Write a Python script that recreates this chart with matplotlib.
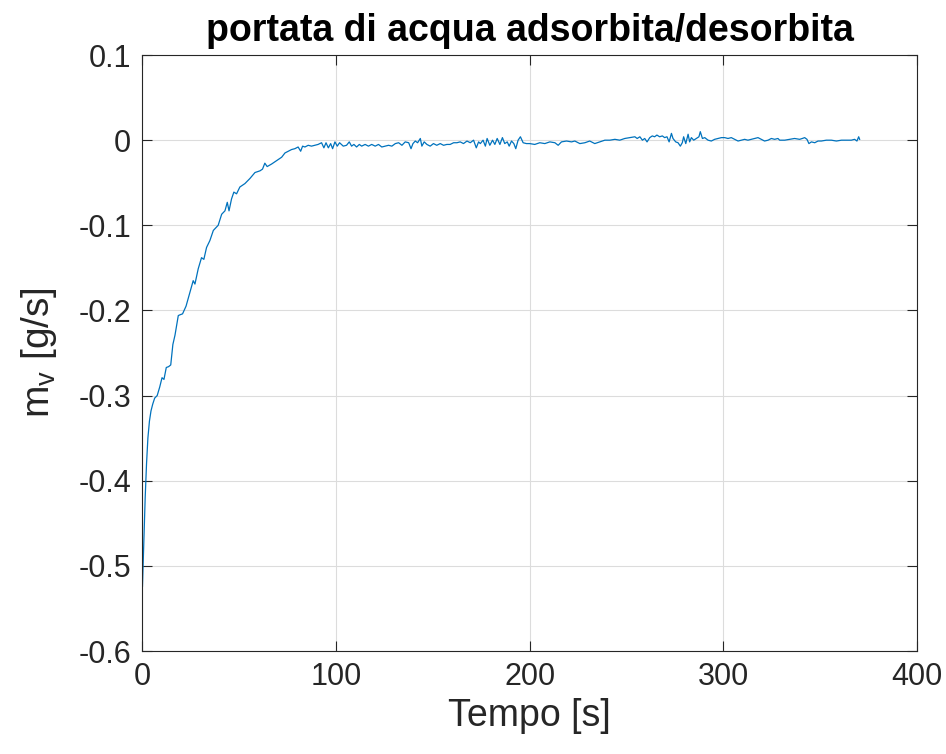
import numpy as np
import matplotlib
matplotlib.use("Agg")
import matplotlib.pyplot as plt

# portata di vapore scambiata dal letto [g/s] in funzione del tempo [s]
tempo = [0, 0.7, 1.4, 2.1, 2.8, 3.6, 4.4, 5.3, 6.3, 7.6, 8.9, 10.1, 11.1, 12.3, 13.5,
         14.6, 15.7, 16.8, 18.5, 19.5, 20.7, 22.5, 24.5, 26.2, 27.1, 28.8, 30.5, 31.7,
         33.1, 34.8, 36.6, 39.1, 40.9, 42.6, 43.8, 44.7, 46.0, 47.2, 48.6, 50.3, 52.9,
         55.5, 58.1, 60.7, 62.0, 63.2, 64.4, 66.7, 69.3, 71.9, 73.6, 75.3, 77.0, 78.7,
         80.4, 81.7, 82.7, 83.9, 85.6, 87.3, 89.0, 90.7, 92.5, 93.7, 94.8, 96.0, 97.2,
         98.2, 99.4, 100.6, 101.8, 103.7, 105.4, 106.8, 108.0, 109.2, 110.6, 112.0,
         113.2, 115.0, 116.7, 118.4, 120.2, 121.9, 123.6, 125.4, 127.1, 128.8, 130.6,
         132.3, 134.0, 135.7, 137.5, 138.7, 139.7, 140.9, 142.1, 143.5, 144.3, 145.5,
         146.9, 148.6, 150.3, 152.0, 153.8, 155.5, 157.2, 158.9, 160.7, 162.4, 164.1,
         165.8, 167.6, 169.3, 171.0, 172.4, 173.6, 174.5, 175.9, 177.1, 178.0, 179.4,
         180.8, 182.0, 183.2, 184.6, 185.9, 187.1, 188.4, 189.4, 190.6, 191.8, 192.8,
         194.0, 195.2, 196.6, 198.3, 200.0, 202.6, 205.2, 207.8, 210.4, 213.0, 214.7,
         216.4, 219.0, 221.6, 223.3, 225.9, 228.5, 231.0, 233.6, 236.2, 238.8, 241.4,
         244.0, 246.5, 249.1, 251.7, 254.3, 255.5, 256.9, 258.2, 259.4, 260.6, 262.0,
         263.3, 264.5, 265.7, 267.1, 268.5, 269.7, 270.9, 272.0, 273.2, 274.0, 275.4,
         276.6, 277.8, 278.8, 279.5, 280.6, 281.8, 282.6, 283.5, 284.7, 286.1, 287.4,
         288.1, 289.2, 290.4, 292.1, 293.8, 295.5, 297.2, 299.0, 300.7, 302.4, 304.1,
         305.9, 307.6, 309.3, 311.0, 312.7, 314.5, 316.2, 317.9, 319.6, 321.3, 323.1,
         324.8, 326.5, 328.2, 329.1, 331.7, 334.3, 336.8, 339.4, 340.8, 342.0, 343.2,
         344.2, 345.5, 347.2, 348.9, 350.6, 353.2, 355.8, 358.4, 361.0, 363.5, 366.1,
         367.8, 369.0, 369.9, 370.4]
portata = [-0.524, -0.470, -0.420, -0.380, -0.350, -0.330, -0.318, -0.310, -0.303, -0.300,
           -0.290, -0.279, -0.281, -0.267, -0.266, -0.264, -0.240, -0.229, -0.206, -0.205,
           -0.204, -0.195, -0.179, -0.165, -0.169, -0.151, -0.138, -0.140, -0.126, -0.118,
           -0.106, -0.100, -0.087, -0.083, -0.073, -0.083, -0.069, -0.061, -0.063, -0.055,
           -0.051, -0.045, -0.038, -0.036, -0.034, -0.027, -0.031, -0.028, -0.024, -0.020,
           -0.015, -0.013, -0.011, -0.010, -0.008, -0.013, -0.007, -0.008, -0.006, -0.007,
           -0.006, -0.005, -0.003, -0.009, -0.003, -0.009, -0.004, -0.010, -0.002, -0.007,
           -0.003, -0.007, -0.006, -0.002, -0.007, -0.005, -0.008, -0.005, -0.007, -0.005,
           -0.007, -0.005, -0.007, -0.005, -0.008, -0.007, -0.006, -0.007, -0.004, -0.003,
           -0.006, -0.002, -0.003, -0.010, -0.004, -0.001, -0.003, 0.002, -0.007, -0.002,
           -0.005, -0.007, -0.004, -0.006, -0.004, -0.006, -0.005, -0.005, -0.003, -0.003,
           -0.002, -0.004, -0.001, -0.003, 0.000, -0.009, -0.002, -0.004, 0.000, -0.007,
           0.002, -0.006, 0.000, -0.005, 0.002, -0.005, 0.003, -0.004, -0.002, -0.007,
           -0.001, -0.004, -0.010, 0.000, 0.004, -0.003, -0.004, -0.004, -0.005, -0.003,
           -0.004, -0.002, -0.003, -0.006, -0.002, -0.001, -0.002, -0.001, -0.004, -0.003,
           -0.001, -0.004, -0.002, 0.000, 0.000, 0.001, 0.000, 0.002, 0.003, 0.004,
           0.002, 0.004, 0.000, 0.002, -0.002, 0.003, 0.005, 0.004, 0.006, 0.004,
           0.005, 0.003, 0.004, -0.002, 0.008, 0.002, -0.002, -0.003, -0.007, -0.003,
           0.004, -0.004, 0.007, -0.002, 0.003, 0.000, 0.002, 0.004, 0.010, 0.002,
           0.003, 0.000, -0.001, 0.001, 0.002, 0.003, 0.003, 0.002, 0.003, 0.001,
           -0.001, 0.000, 0.001, 0.000, 0.001, 0.002, 0.003, 0.001, -0.001, 0.000,
           0.002, 0.001, 0.002, 0.000, 0.000, 0.001, 0.002, 0.001, 0.002, 0.003,
           0.001, -0.004, -0.002, -0.003, -0.001, -0.001, 0.000, 0.000, -0.001, 0.000,
           0.000, 0.000, 0.001, -0.001, 0.004, 0.001]

x_ticks = [0, 100, 200, 300, 400]
y_ticks = [-0.6, -0.5, -0.4, -0.3, -0.2, -0.1, 0, 0.1]
y_labels = ["-0.6", "-0.5", "-0.4", "-0.3", "-0.2", "-0.1", "0", "0.1"]

plt.rcParams["font.family"] = ["Liberation Sans", "DejaVu Sans"]
plt.rcParams["mathtext.fontset"] = "custom"
plt.rcParams["mathtext.rm"] = "Liberation Sans"

grigio = "#262626"
fig = plt.figure(figsize=(9.46, 7.54), dpi=100)
ax = fig.add_axes([0.1506, 0.1366, 0.8187, 0.7904])
ax.plot(tempo, portata, color="#0072BD", lw=0.9)

ax.set_xlim(0, 400)
ax.set_ylim(-0.6, 0.1)
ax.set_xticks(x_ticks)
ax.set_yticks(y_ticks, y_labels)
ax.grid(True, color="#dcdcdc", lw=0.8)
ax.set_axisbelow(True)
ax.tick_params(direction="in", top=True, right=True, length=7, width=0.8,
               colors=grigio, labelsize=22, pad=8)
for s in ax.spines.values():
    s.set_color(grigio)
    s.set_linewidth(0.8)

ax.set_xlabel("Tempo [s]", fontsize=27, color=grigio, labelpad=4)
ax.set_ylabel(r"m$_\mathregular{v}$ [g/s]", fontsize=28, color=grigio, labelpad=14)
ax.set_title("portata di acqua adsorbita/desorbita", fontsize=27, fontweight="bold",
             color="black", pad=10)

fig.savefig("out.png", dpi=100)
